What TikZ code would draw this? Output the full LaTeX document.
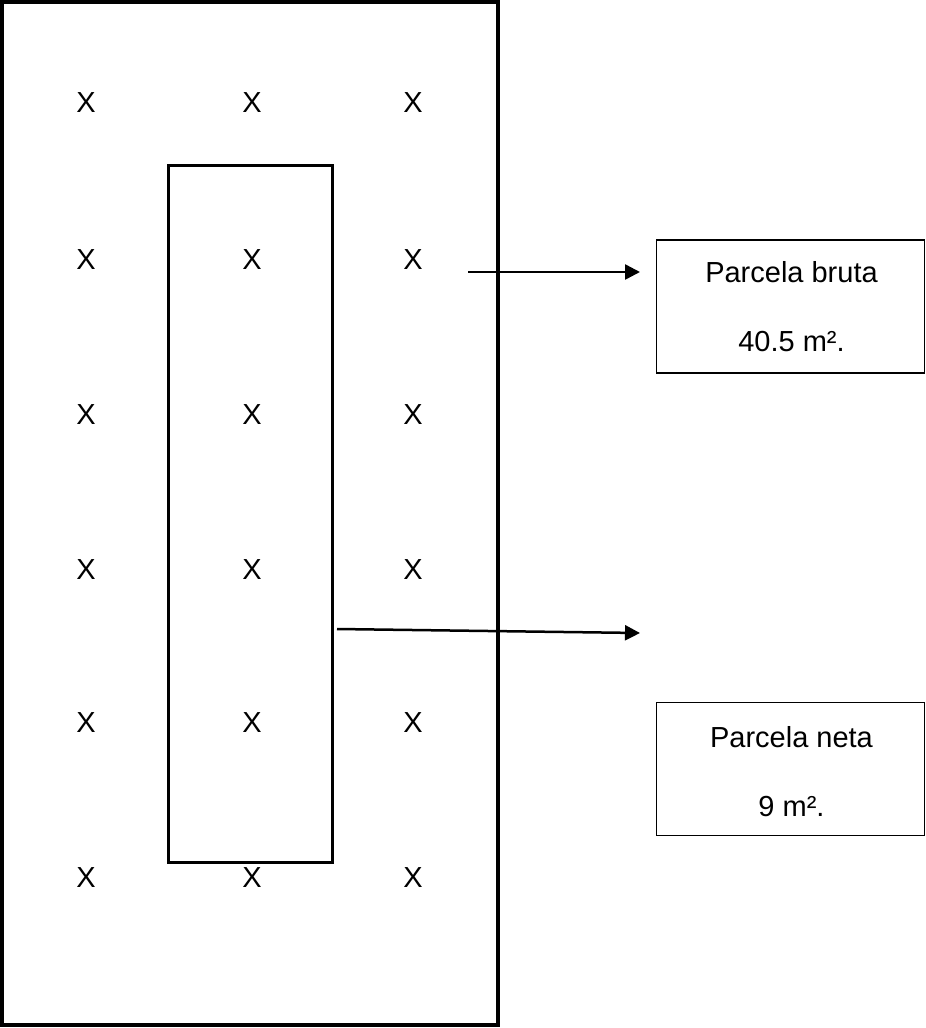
\documentclass[tikz,border=0pt]{standalone}
\usepackage{fontspec}
\setmainfont{Liberation Sans}
\usetikzlibrary{arrows.meta}
\begin{document}
\begin{tikzpicture}[x=1pt,y=-1pt,
  xmark/.style={font=\fontsize{29}{34}\selectfont, inner sep=0pt},
  lbl/.style={font=\fontsize{29}{34}\selectfont, inner sep=0pt},
  infobox/.style={draw, line width=1.5pt, minimum width=268pt, minimum height=133pt, inner sep=0pt},
  conn/.style={line width=2.5pt, -{Triangle[length=15pt,width=15pt]}}]
\useasboundingbox (0,0) rectangle (926,1028);
% outer plot
\draw[line width=4pt] (2,2) rectangle (498,1025);
% inner (net) plot
\node[draw, line width=3pt, minimum width=164.5pt, minimum height=697pt, inner sep=0pt] (inner) at (250.25,514) {};
% X marks
\foreach \r/\y in {1/103,2/260,3/415,4/570,5/723,6/878}{
  \foreach \c/\x in {1/86,2/252,3/413}{
    \node[xmark] (x\r\c) at (\x,\y) {X};
  }
}
% info boxes
\node[infobox] (bruta) at (790.5,306.5) {};
\node[lbl] (bt1) at (791.5,272) {Parcela bruta};
\node[lbl] (bt2) at (791.5,342) {40.5 m².};
\node[infobox] (neta) at (790.5,769) {};
\node[lbl] (nt1) at (791.5,737) {Parcela neta};
\node[lbl] (nt2) at (791.5,807) {9 m².};
% connectors
\coordinate (a1s) at (468,272);
\coordinate (a1e) at (640,272);
\coordinate (a2s) at (337,629);
\coordinate (a2e) at (640,633);
\draw[conn] (a1s) -- (a1e);
\draw[conn] (a2s) -- (a2e);
\end{tikzpicture}
\end{document}
